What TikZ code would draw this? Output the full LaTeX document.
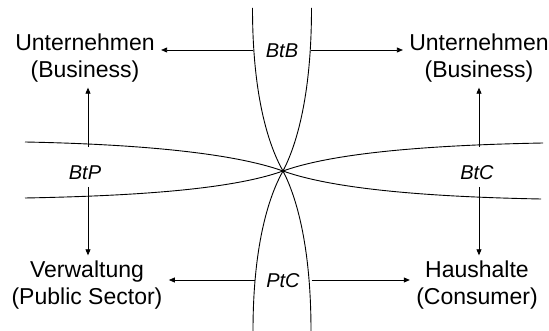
\documentclass[tikz,border=0pt]{standalone}
\usepackage{fontspec}
\setmainfont{Liberation Sans}
\usetikzlibrary{arrows.meta}

\begin{document}
\begin{tikzpicture}[x=1pt, y=-1pt, line width=0.9pt,
    sector/.style={align=center, font=\fontsize{23}{27}\selectfont, inner xsep=6pt, inner ysep=5pt},
    rel/.style={font=\fontsize{20}{24}\selectfont\itshape},
    arr/.style={-{Triangle[length=6pt, width=5pt]}, line width=0.8pt}]
    \useasboundingbox (0,0) rectangle (549,331);

    % Nodes
    \coordinate (X) at (283, 171);
    \node[sector] (UL) at (85, 58) {Unternehmen\\(Business)};
    \node[sector] (UR) at (479, 58) {Unternehmen\\(Business)};
    \node[sector] (BL) at (87, 285) {Verwaltung\\(Public Sector)};
    \node[sector] (BR) at (477, 285) {Haushalte\\(Consumer)};

    \node[rel] (btb) at (282, 51) {BtB};
    \node[rel] (btp) at (85, 173) {BtP};
    \node[rel] (btc) at (477, 173) {BtC};
    \node[rel] (ptc) at (283, 281) {PtC};

    % Curves through the centre
    \draw (252.5, 8) .. controls (252.5, 100) and (270, 148) .. (X);
    \draw (311.5, 8) .. controls (311.5, 100) and (295, 148) .. (X);
    \draw (253, 331) .. controls (253, 242) and (270, 194) .. (X);
    \draw (311, 331) .. controls (311, 242) and (295, 194) .. (X);
    \draw (25, 142) .. controls (130, 144) and (230, 152) .. (X);
    \draw (25, 198) .. controls (130, 196) and (230, 190) .. (X);
    \draw (543, 143) .. controls (436, 145) and (336, 152) .. (X);
    \draw (541, 199) .. controls (436, 197) and (336, 190) .. (X);

    % Start points on the curves
    \coordinate (btbL) at (253, 50);
    \coordinate (btbR) at (310.5, 50);
    \coordinate (ptcL) at (254.5, 280);
    \coordinate (ptcR) at (311.5, 280);
    \coordinate (btpU) at (88, 147);
    \coordinate (btpD) at (88, 187);
    \coordinate (btcU) at (479, 147);
    \coordinate (btcD) at (479, 187);

    % Arrows
    \draw[arr] (btbL) -- (btbL -| UL.east);
    \draw[arr] (btbR) -- (btbR -| UR.west);
    \draw[arr] (ptcL) -- (ptcL -| BL.east);
    \draw[arr] (ptcR) -- (ptcR -| BR.west);
    \draw[arr] (btpU) -- (btpU |- UL.south);
    \draw[arr] (btpD) -- (btpD |- BL.north);
    \draw[arr] (btcU) -- (btcU |- UR.south);
    \draw[arr] (btcD) -- (btcD |- BR.north);
\end{tikzpicture}
\end{document}
